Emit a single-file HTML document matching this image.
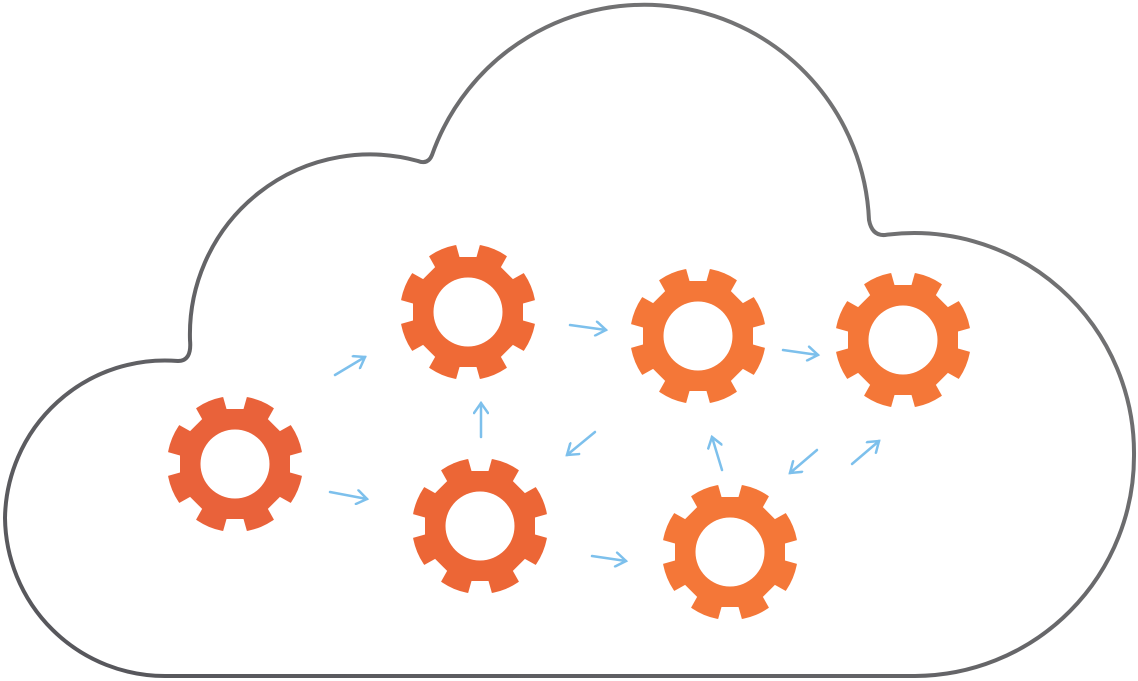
<!DOCTYPE html>
<html><head><style>html,body{margin:0;padding:0;background:#fff;}svg{display:block}</style></head>
<body>
<svg width="1138" height="681" viewBox="0 0 1138 681" xmlns="http://www.w3.org/2000/svg">
<defs>
<linearGradient id="cg" x1="0" y1="1" x2="1" y2="0">
<stop offset="0" stop-color="#55555a"/><stop offset="1" stop-color="#7a7a7a"/>
</linearGradient>
<g id="n"><polygon points="-8.5,-55 8.5,-55 13,-71 -13,-71" fill="#fff"/></g>
<g id="notches">
<use href="#n"/><use href="#n" transform="rotate(45)"/><use href="#n" transform="rotate(90)"/><use href="#n" transform="rotate(135)"/><use href="#n" transform="rotate(180)"/><use href="#n" transform="rotate(225)"/><use href="#n" transform="rotate(270)"/><use href="#n" transform="rotate(315)"/>
</g>
<marker id="ah" markerWidth="16" markerHeight="16" refX="12" refY="8" orient="auto" markerUnits="userSpaceOnUse">
<path d="M2,1 L12,8 L2,15" fill="none" stroke="#7dc0ec" stroke-width="2.5" stroke-linecap="round"/>
</marker>
</defs>
<path d="M165 676 L915 676 A220 220 0 0 0 1134 456 A220 220 0 0 0 885 235 Q872 236 869 220 A225 225 0 0 0 432 155 Q428 165 418 161 A180 180 0 0 0 190 340 Q192 361 178 361 A160 160 0 0 0 5 518 A160 160 0 0 0 165 676 Z" fill="none" stroke="url(#cg)" stroke-width="4"/>
<g stroke="#7dc0ec" stroke-width="2.5" stroke-linecap="round" fill="none" marker-end="url(#ah)">
<line x1="335" y1="375" x2="365" y2="357"/>
<line x1="330" y1="492" x2="367" y2="499"/>
<line x1="570" y1="325" x2="606" y2="330"/>
<line x1="481" y1="437" x2="481" y2="403"/>
<line x1="595" y1="432" x2="567" y2="455"/>
<line x1="783" y1="350" x2="818" y2="355"/>
<line x1="592" y1="556" x2="626" y2="561"/>
<line x1="722" y1="470" x2="712" y2="437"/>
<line x1="817" y1="450" x2="790" y2="473"/>
<line x1="852" y1="464" x2="879" y2="441"/>
</g>
<g transform="translate(235,464)" fill="#e9623a"><circle r="68"/><use href="#notches"/><circle r="34.5" fill="#fff"/></g>
<g transform="translate(468,312)" fill="#ef6a36"><circle r="68"/><use href="#notches"/><circle r="34.5" fill="#fff"/></g>
<g transform="translate(698,336)" fill="#f47738"><circle r="68"/><use href="#notches"/><circle r="34.5" fill="#fff"/></g>
<g transform="translate(903,340)" fill="#f47738"><circle r="68"/><use href="#notches"/><circle r="34.5" fill="#fff"/></g>
<g transform="translate(480,526)" fill="#ec6636"><circle r="68"/><use href="#notches"/><circle r="34.5" fill="#fff"/></g>
<g transform="translate(730,552)" fill="#f47738"><circle r="68"/><use href="#notches"/><circle r="34.5" fill="#fff"/></g>
</svg>
</body></html>
